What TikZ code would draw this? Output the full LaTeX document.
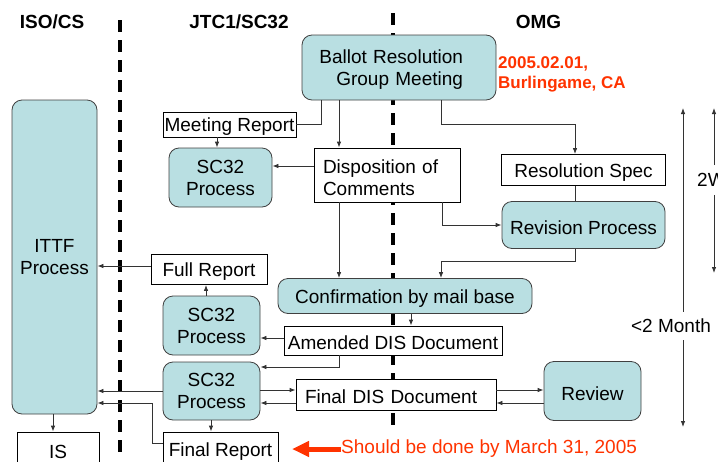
\documentclass[tikz,border=0pt]{standalone}
\usepackage{fontspec}
\setmainfont{Liberation Sans}
\usetikzlibrary{arrows.meta}
\definecolor{boxfill}{RGB}{185,223,226}
\definecolor{redtxt}{RGB}{255,51,0}
\begin{document}
\begin{tikzpicture}[x=1pt,y=-1pt,
  every node/.style={font=\fontsize{19}{22}\selectfont, inner sep=0pt},
  lowtext/.style={execute at begin node={\rule{0pt}{18.5pt}}},
  plainbox/.style={draw=black, fill=white, line width=0.8pt, align=center, lowtext},
  procbox/.style={draw=black!75, fill=boxfill, rounded corners=10pt, line width=0.8pt, align=center, lowtext},
  conn/.style={draw=black!80, line width=0.8pt},
  arr/.style={conn, -{Latex[length=6pt,width=4.5pt]}},
  hdr/.style={font=\fontsize{19}{22}\selectfont\bfseries},
  divider/.style={line width=3.5pt, dash pattern=on 12pt off 8pt}]
\useasboundingbox (0,0) rectangle (718,461);
\clip (0,0) rectangle (718,461);

% dividers
\draw[divider] (120,20) -- (120,455);
\draw[divider] (393,13) -- (393,428);

% headers
\node[hdr] (hiso) at (52,22) {ISO/CS};
\node[hdr] (hjtc) at (239,22) {JTC1/SC32};
\node[hdr] (homg) at (538.5,22) {OMG};

% nodes
\node[procbox, minimum width=194, minimum height=65, text width=164, align=right] (ballot) at (399,67.5) {Ballot Resolution\hspace*{18pt}\null\\Group Meeting\hspace*{18pt}\null};
\node[font=\fontsize{17}{20}\selectfont\bfseries, text=redtxt, align=left, anchor=west] (date) at (498,74) {2005.02.01,\\Burlingame, CA};
\node[procbox, minimum width=85, minimum height=314] (ittf) at (54.5,257) {ITTF\\Process};
\node[plainbox, minimum width=133, minimum height=25] (mr) at (229.5,124.5) {Meeting Report};
\node[procbox, minimum width=103, minimum height=59] (sc1) at (220.5,177.5) {SC32\\Process};
\node[plainbox, minimum width=146, minimum height=54, text width=128, inner xsep=9pt, align=left] (disp) at (387,175) {Disposition of\\Comments};
\node[plainbox, minimum width=164, minimum height=31] (rspec) at (583.5,170) {Resolution Spec};
\node[procbox, minimum width=163, minimum height=47] (rev) at (583.5,225) {Revision Process};
\node[plainbox, minimum width=116, minimum height=30] (full) at (209,269.5) {Full Report};
\node[procbox, minimum width=254, minimum height=35] (conf) at (405,296) {Confirmation by mail base};
\node[procbox, minimum width=97, minimum height=59] (sc2) at (211.5,325.5) {SC32\\Process};
\node[plainbox, minimum width=218, minimum height=29] (amend) at (393,340.5) {Amended DIS Document};
\node[procbox, minimum width=97, minimum height=58] (sc3) at (211.5,391) {SC32\\Process};
\node[plainbox, minimum height=31, text width=182, inner xsep=9pt, align=left] (fdis) at (396,394.5) {Final DIS Document};
\node[procbox, minimum width=97, minimum height=59] (review) at (592.5,391) {Review};
\node[plainbox, minimum width=82, minimum height=34] (is) at (58,449) {IS};
\node[plainbox, minimum width=115, minimum height=34] (frep) at (220.5,449) {Final Report};

% red note
\node[text=redtxt, anchor=west] (due) at (341,449) {Should be done by March 31, 2005};
\coordinate (duetip) at (292,449);
\draw[redtxt, line width=5pt, -{Triangle[length=17pt,width=15pt]}] (due.west) -- (duetip);

% connectors
\draw[conn] (ballot.south -| 321,0) |- (mr.east);
\draw[arr] (mr.south -| 217,0) -- (sc1.north -| 217,0);
\draw[arr] (ballot.south -| 339,0) -- (disp.north -| 339,0);
\draw[arr] (ballot.south -| 441,0) -- (441,124) -- (575,124) -- (rspec.north -| 575,0);
\draw[arr] (disp.west |- 0,166) -- (sc1.east |- 0,166);
\draw[conn] (rspec.south -| 575,0) -- (rev.north -| 575,0);
\draw[arr] (disp.south -| 442,0) |- (rev.west);
\draw[arr] (disp.south -| 339,0) -- (conf.north -| 339,0);
\draw[arr] (rev.south -| 575,0) -- (575,261) -- (441,261) -- (conf.north -| 441,0);
\draw[arr] (conf.south -| 411,0) -- (amend.north -| 411,0);
\draw[arr] (amend.west |- 0,338) -- (sc2.east |- 0,338);
\draw[arr] (amend.south -| 339,0) |- (sc3.east |- 0,367);
\draw[arr] (sc2.north -| 206,0) -- (full.south -| 206,0);
\draw[arr] (full.west |- 0,266) -- (ittf.east |- 0,266);
\draw[arr] (sc3.west |- 0,391) -- (ittf.east |- 0,391);
\draw[arr] (frep.west |- 0,443) -- (152,443) |- (ittf.east |- 0,403);
\draw[arr] (sc3.east |- 0,390) -- (fdis.west |- 0,390);
\draw[arr] (fdis.west |- 0,403) -- (sc3.east |- 0,403);
\draw[arr] (fdis.east |- 0,390) -- (review.west |- 0,390);
\draw[arr] (review.west |- 0,403) -- (fdis.east |- 0,403);
\draw[arr] (sc3.south -| 211,0) -- (frep.north -| 211,0);
\draw[arr] (ittf.south -| 53,0) -- (is.north -| 53,0);

% time spans
\node[inner ysep=7pt] (m2) at (671,326) {<2 Month};
\coordinate (m2top) at (683,108);
\coordinate (m2bot) at (683,427);
\draw[arr] (m2.north -| 683,0) -- (m2top);
\draw[arr] (m2.south -| 683,0) -- (m2bot);
\node[inner ysep=8pt, anchor=west] (w2) at (697,180) {2W};
\coordinate (w2top) at (714,108);
\coordinate (w2bot) at (714,273);
\draw[arr] (w2.north -| 714,0) -- (w2top);
\draw[arr] (w2.south -| 714,0) -- (w2bot);
\end{tikzpicture}
\end{document}
